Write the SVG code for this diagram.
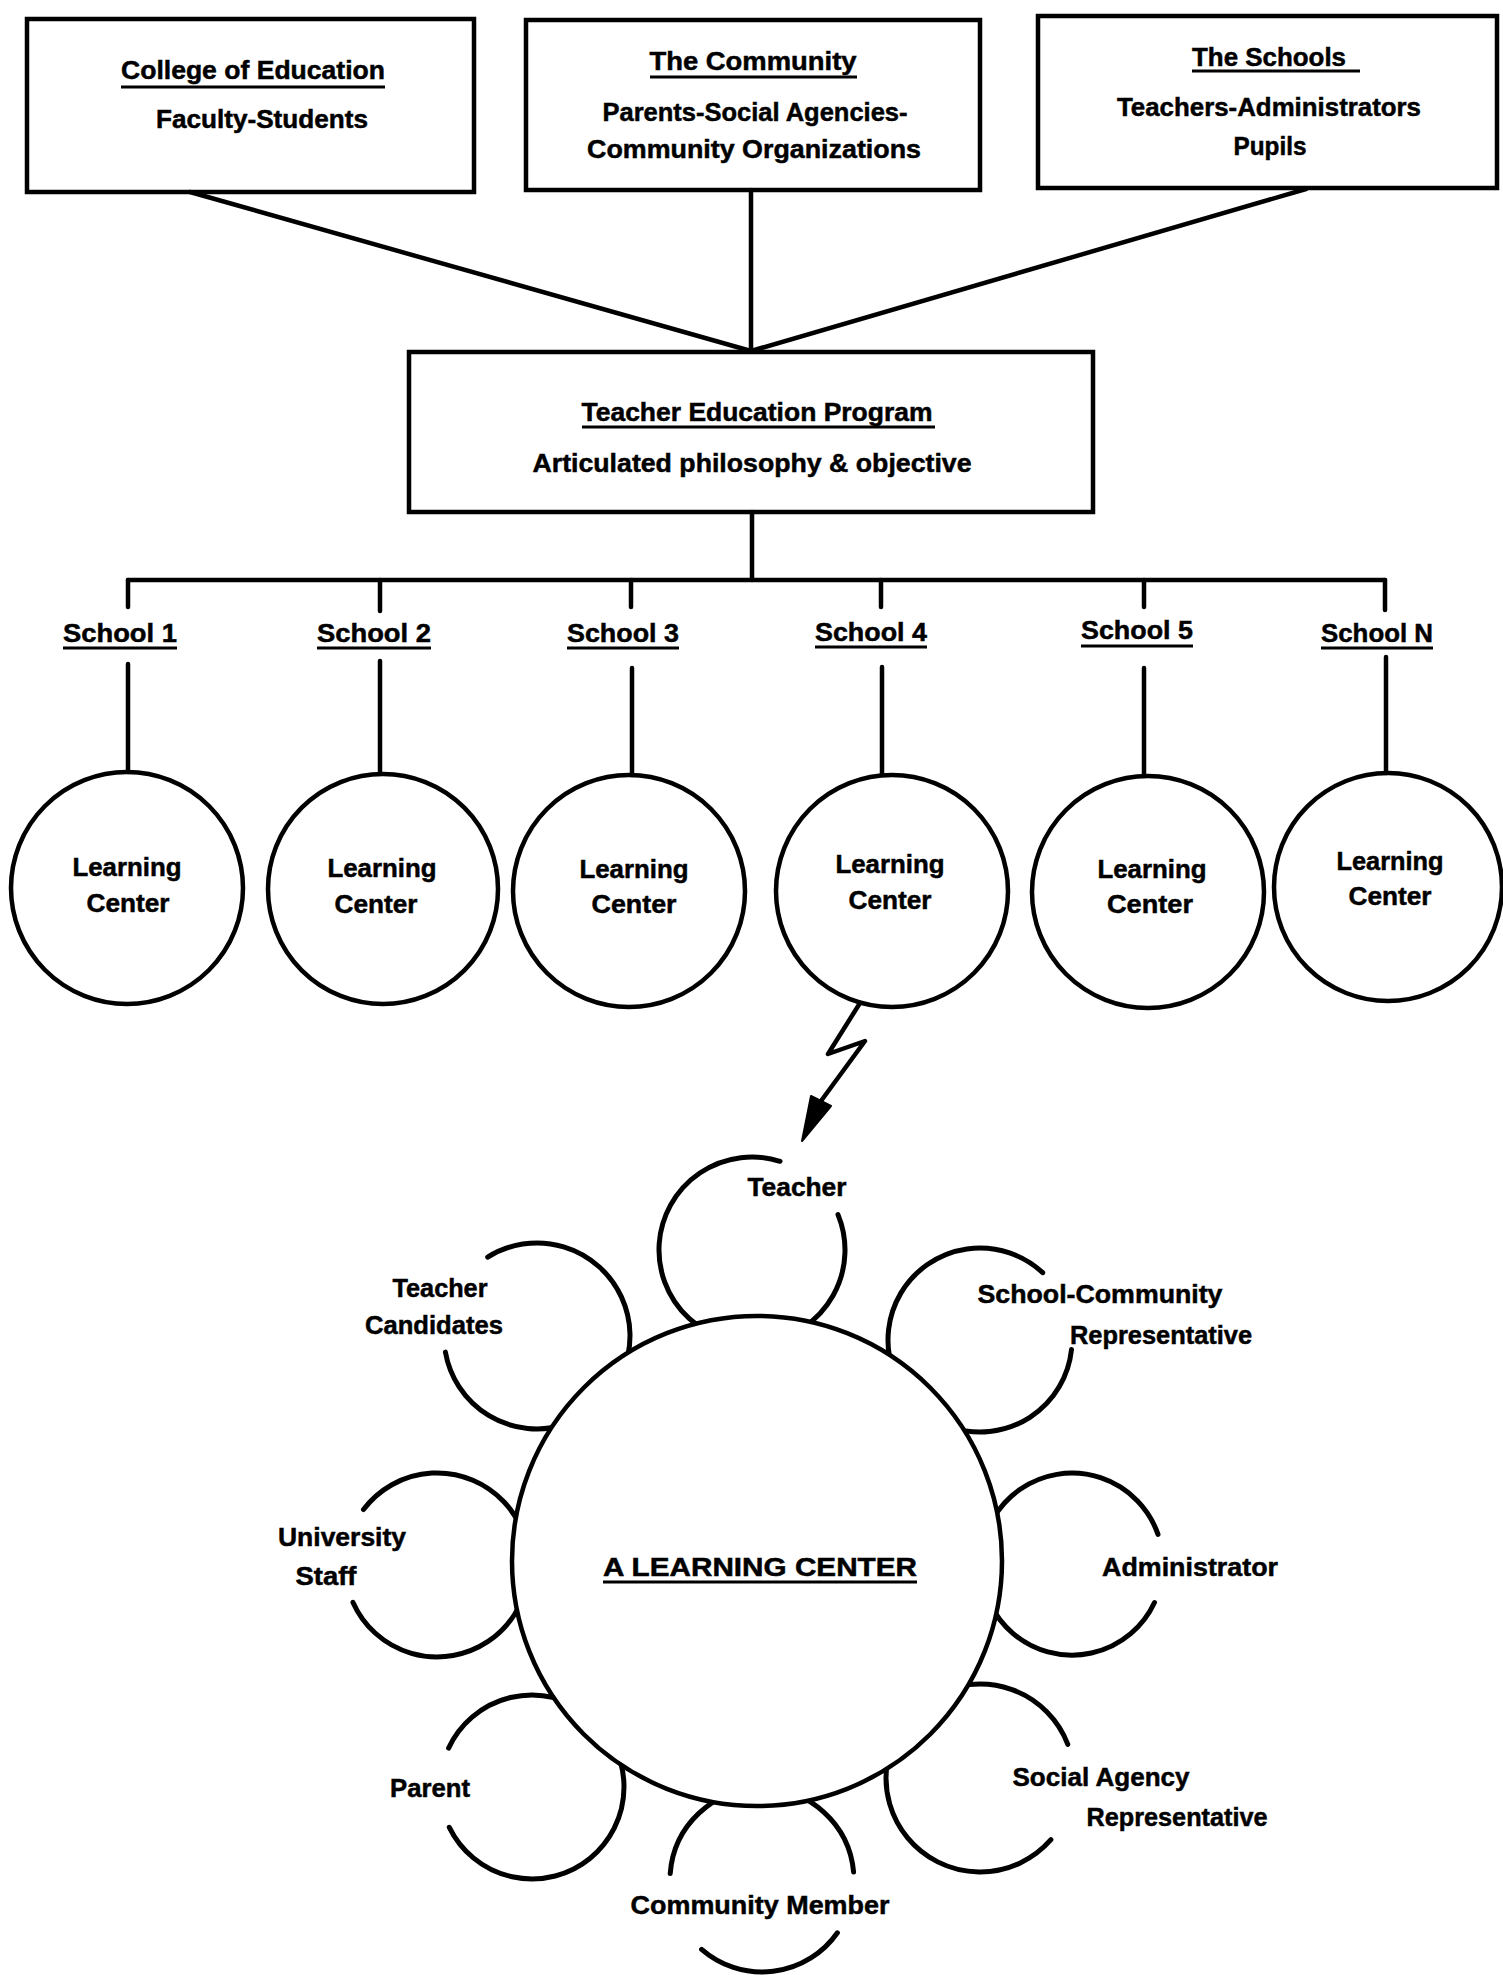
<svg xmlns="http://www.w3.org/2000/svg" width="1503" height="1975" viewBox="0 0 1503 1975">
<style>
.box{fill:none;stroke:#000;stroke-width:4.5}
.ln{fill:none;stroke:#000;stroke-width:4.5;stroke-linecap:round;stroke-linejoin:round}
.circ{fill:none;stroke:#000;stroke-width:4.5}
.arc{fill:none;stroke:#000;stroke-width:5;stroke-linecap:round}
.ul{stroke:#000;stroke-width:3}
.t{font-family:"Liberation Sans",Arial,Helvetica,sans-serif;font-weight:bold;font-size:26px;fill:#000;stroke:#000;stroke-width:0.5;text-anchor:middle}
</style>
<defs>
<mask id="outside" maskUnits="userSpaceOnUse" x="0" y="0" width="1503" height="1975">
<rect x="0" y="0" width="1503" height="1975" fill="#fff"/>
<circle cx="757" cy="1561" r="244" fill="#000"/>
</mask>
</defs>
<rect x="0" y="0" width="1503" height="1975" fill="#fff"/>

<g id="connectors">
<line class="ln" x1="190" y1="192" x2="751" y2="351"/>
<line class="ln" x1="751" y1="190" x2="751" y2="351"/>
<line class="ln" x1="1306" y1="189" x2="751" y2="351"/>
<line class="ln" x1="752" y1="512" x2="752" y2="580"/>
<line class="ln" x1="128" y1="580" x2="1385" y2="580"/>
<line class="ln" x1="128" y1="580" x2="128" y2="607"/>
<line class="ln" x1="380" y1="580" x2="380" y2="611"/>
<line class="ln" x1="631" y1="580" x2="631" y2="607"/>
<line class="ln" x1="881" y1="580" x2="881" y2="607"/>
<line class="ln" x1="1144" y1="580" x2="1144" y2="607"/>
<line class="ln" x1="1385" y1="580" x2="1385" y2="610"/>
<line class="ln" x1="128" y1="664" x2="128" y2="772"/>
<line class="ln" x1="380" y1="661" x2="380" y2="773"/>
<line class="ln" x1="632" y1="668" x2="632" y2="775"/>
<line class="ln" x1="882" y1="667" x2="882" y2="775"/>
<line class="ln" x1="1144" y1="668" x2="1144" y2="776"/>
<line class="ln" x1="1386" y1="657" x2="1386" y2="773"/>
<polyline class="ln" points="860,1003 828,1054 865,1041 821,1101"/>
<polygon points="811,1096 831,1106 802,1141" fill="#000" stroke="#000" stroke-width="2" stroke-linejoin="round"/>
</g>

<g id="college">
<rect class="box" x="27" y="19" width="447" height="173"/>
<text class="t" x="253" y="79" textLength="264" lengthAdjust="spacingAndGlyphs">College of Education</text>
<line class="ul" x1="121" y1="87" x2="385" y2="87"/>
<text class="t" x="262" y="128" textLength="212" lengthAdjust="spacingAndGlyphs">Faculty-Students</text>
</g>

<g id="community">
<rect class="box" x="526" y="20" width="454" height="170"/>
<text class="t" x="753" y="70" textLength="207" lengthAdjust="spacingAndGlyphs">The Community</text>
<line class="ul" x1="650" y1="77" x2="857" y2="77"/>
<text class="t" x="755" y="121" textLength="305" lengthAdjust="spacingAndGlyphs">Parents-Social Agencies-</text>
<text class="t" x="754" y="158" textLength="334" lengthAdjust="spacingAndGlyphs">Community Organizations</text>
</g>

<g id="schools">
<rect class="box" x="1038" y="16" width="459" height="172"/>
<text class="t" x="1269" y="66" textLength="154" lengthAdjust="spacingAndGlyphs">The Schools</text>
<line class="ul" x1="1192" y1="71" x2="1360" y2="71"/>
<text class="t" x="1269" y="116" textLength="304" lengthAdjust="spacingAndGlyphs">Teachers-Administrators</text>
<text class="t" x="1270" y="155" textLength="73" lengthAdjust="spacingAndGlyphs">Pupils</text>
</g>

<g id="teacher-education-program">
<rect class="box" x="409" y="352" width="684" height="160"/>
<text class="t" x="757" y="421" textLength="351" lengthAdjust="spacingAndGlyphs">Teacher Education Program</text>
<line class="ul" x1="582" y1="427" x2="935" y2="427"/>
<text class="t" x="752" y="472" textLength="439" lengthAdjust="spacingAndGlyphs">Articulated philosophy &amp; objective</text>
</g>

<g id="school-1">
<text class="t" x="120" y="642" textLength="114" lengthAdjust="spacingAndGlyphs">School 1</text>
<line class="ul" x1="63" y1="648" x2="177" y2="648"/>
</g>
<g id="school-2">
<text class="t" x="374" y="642" textLength="114" lengthAdjust="spacingAndGlyphs">School 2</text>
<line class="ul" x1="317" y1="648" x2="431" y2="648"/>
</g>
<g id="school-3">
<text class="t" x="623" y="642" textLength="112" lengthAdjust="spacingAndGlyphs">School 3</text>
<line class="ul" x1="567" y1="648" x2="679" y2="648"/>
</g>
<g id="school-4">
<text class="t" x="871" y="641" textLength="112" lengthAdjust="spacingAndGlyphs">School 4</text>
<line class="ul" x1="815" y1="647" x2="927" y2="647"/>
</g>
<g id="school-5">
<text class="t" x="1137" y="639" textLength="112" lengthAdjust="spacingAndGlyphs">School 5</text>
<line class="ul" x1="1081" y1="646" x2="1193" y2="646"/>
</g>
<g id="school-n">
<text class="t" x="1377" y="642" textLength="112" lengthAdjust="spacingAndGlyphs">School N</text>
<line class="ul" x1="1321" y1="648" x2="1433" y2="648"/>
</g>

<g id="learning-center-1">
<circle class="circ" cx="127" cy="888" r="116"/>
<text class="t" x="127" y="876" textLength="109" lengthAdjust="spacingAndGlyphs">Learning</text>
<text class="t" x="128" y="912" textLength="83" lengthAdjust="spacingAndGlyphs">Center</text>
</g>
<g id="learning-center-2">
<circle class="circ" cx="383" cy="889" r="115"/>
<text class="t" x="382" y="877" textLength="109" lengthAdjust="spacingAndGlyphs">Learning</text>
<text class="t" x="376" y="913" textLength="83" lengthAdjust="spacingAndGlyphs">Center</text>
</g>
<g id="learning-center-3">
<circle class="circ" cx="629" cy="891" r="116"/>
<text class="t" x="634" y="878" textLength="109" lengthAdjust="spacingAndGlyphs">Learning</text>
<text class="t" x="634" y="913" textLength="85" lengthAdjust="spacingAndGlyphs">Center</text>
</g>
<g id="learning-center-4">
<circle class="circ" cx="892" cy="891" r="116"/>
<text class="t" x="890" y="873" textLength="109" lengthAdjust="spacingAndGlyphs">Learning</text>
<text class="t" x="890" y="909" textLength="83" lengthAdjust="spacingAndGlyphs">Center</text>
</g>
<g id="learning-center-5">
<circle class="circ" cx="1148" cy="892" r="116"/>
<text class="t" x="1152" y="878" textLength="109" lengthAdjust="spacingAndGlyphs">Learning</text>
<text class="t" x="1150" y="913" textLength="86" lengthAdjust="spacingAndGlyphs">Center</text>
</g>
<g id="learning-center-n">
<circle class="circ" cx="1388" cy="887" r="114"/>
<text class="t" x="1390" y="870" textLength="107" lengthAdjust="spacingAndGlyphs">Learning</text>
<text class="t" x="1390" y="905" textLength="83" lengthAdjust="spacingAndGlyphs">Center</text>
</g>

<g id="a-learning-center">
<circle class="circ" cx="757" cy="1561" r="245"/>
<text class="t" x="760" y="1576" font-size="28" textLength="314" lengthAdjust="spacingAndGlyphs">A LEARNING CENTER</text>
<line class="ul" x1="603" y1="1582" x2="917" y2="1582"/>
</g>

<g id="roles" mask="url(#outside)">
<g id="role-teacher">
<path class="arc" d="M 838.0 1214.6 A 93 93 0 1 1 780.0 1161.3"/>
</g>
<g id="role-teacher-candidates">
<path class="arc" d="M 487.7 1257.1 A 93 93 0 1 1 445.4 1352.1"/>
</g>
<g id="role-university-staff">
<path class="arc" d="M 363.5 1509.6 A 92 92 0 1 1 353.0 1602.4"/>
</g>
<g id="role-parent">
<path class="arc" d="M 448.6 1748.1 A 92 92 0 1 1 449.3 1827.3"/>
</g>
<g id="role-community-member">
<path class="arc" d="M 837.4 1932.8 A 92 92 0 0 1 701.6 1949.4"/>
<path class="arc" d="M 670.2 1873.6 A 92 92 0 0 1 853.6 1872.0"/>
</g>
<g id="role-social-agency">
<path class="arc" d="M 1050.9 1839.7 A 94 94 0 1 1 1067.8 1744.3"/>
</g>
<g id="role-administrator">
<path class="arc" d="M 1154.5 1602.5 A 91 91 0 1 1 1158.0 1534.4"/>
</g>
<g id="role-school-community">
<path class="arc" d="M 1071.5 1349.6 A 92 92 0 1 1 1042.7 1272.7"/>
</g>
</g>

<g id="role-labels">
<text class="t" x="797" y="1196" textLength="99" lengthAdjust="spacingAndGlyphs">Teacher</text>
<text class="t" x="440" y="1297" textLength="95" lengthAdjust="spacingAndGlyphs">Teacher</text>
<text class="t" x="434" y="1334" textLength="138" lengthAdjust="spacingAndGlyphs">Candidates</text>
<text class="t" x="342" y="1546" textLength="128" lengthAdjust="spacingAndGlyphs">University</text>
<text class="t" x="326" y="1585" textLength="61" lengthAdjust="spacingAndGlyphs">Staff</text>
<text class="t" x="430" y="1797" textLength="80" lengthAdjust="spacingAndGlyphs">Parent</text>
<text class="t" x="760" y="1914" textLength="259" lengthAdjust="spacingAndGlyphs">Community Member</text>
<text class="t" x="1101" y="1786" textLength="177" lengthAdjust="spacingAndGlyphs">Social Agency</text>
<text class="t" x="1177" y="1826" textLength="181" lengthAdjust="spacingAndGlyphs">Representative</text>
<text class="t" x="1190" y="1576" textLength="176" lengthAdjust="spacingAndGlyphs">Administrator</text>
<text class="t" x="1100" y="1303" textLength="245" lengthAdjust="spacingAndGlyphs">School-Community</text>
<text class="t" x="1161" y="1344" textLength="182" lengthAdjust="spacingAndGlyphs">Representative</text>
</g>
</svg>
